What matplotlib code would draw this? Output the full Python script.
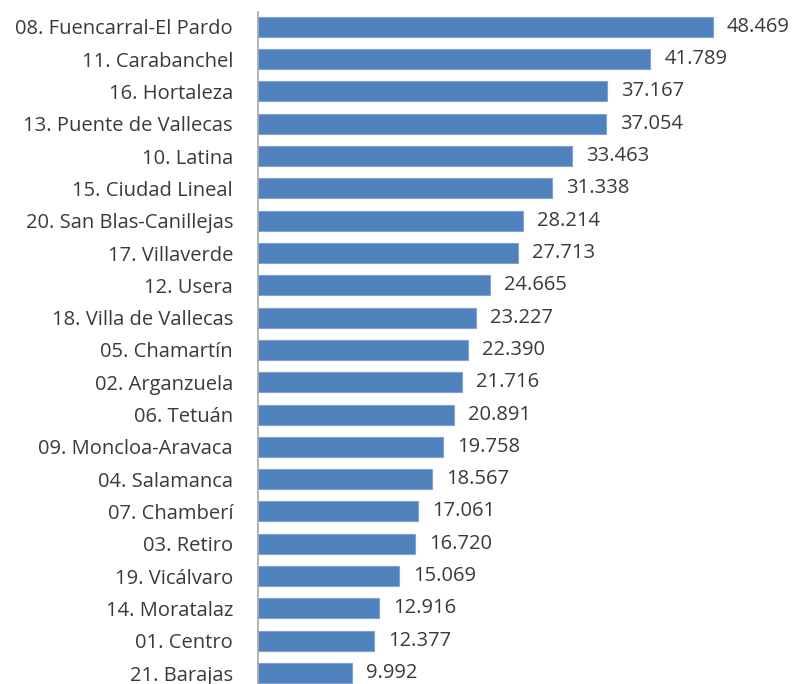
import matplotlib.pyplot as plt

# Distritos de Madrid y sus valores
distritos = [
    "08. Fuencarral-El Pardo", "11. Carabanchel", "16. Hortaleza",
    "13. Puente de Vallecas", "10. Latina", "15. Ciudad Lineal",
    "20. San Blas-Canillejas", "17. Villaverde", "12. Usera",
    "18. Villa de Vallecas", "05. Chamartín", "02. Arganzuela",
    "06. Tetuán", "09. Moncloa-Aravaca", "04. Salamanca",
    "07. Chamberí", "03. Retiro", "19. Vicálvaro", "14. Moratalaz",
    "01. Centro", "21. Barajas",
]
valores = [48.469, 41.789, 37.167, 37.054, 33.463, 31.338, 28.214, 27.713,
           24.665, 23.227, 22.390, 21.716, 20.891, 19.758, 18.567, 17.061,
           16.720, 15.069, 12.916, 12.377, 9.992]

plt.rcParams['font.family'] = ['Open Sans', 'DejaVu Sans']

fig = plt.figure(figsize=(7.97, 6.84), dpi=100)
ax = fig.add_axes([258 / 797, 0, 1 - 258 / 797, 1 - 12 / 684])

pos = list(range(len(distritos)))
ax.barh(pos, valores, height=0.62, color='#4F81BD', edgecolor='#7FA3D0',
        linewidth=0.8)

for y, v in zip(pos, valores):
    ax.text(v + 1.5, y, f"{v:.3f}", va='center', ha='left',
            fontsize=14.5, color='#3A3A3A')

ax.set_yticks(pos)
ax.set_yticklabels(distritos, fontsize=14.5, color='#3A3A3A')
ax.tick_params(axis='y', length=0, pad=18)
ax.set_xticks([])
ax.set_xlim(0, (797 - 258) / 9.387)
ax.set_ylim(20.34, -0.46)

for s in ['top', 'right', 'bottom']:
    ax.spines[s].set_visible(False)
ax.spines['left'].set_color('#A6A6A6')
ax.spines['left'].set_linewidth(1.2)

fig.savefig('out.png', dpi=100)
